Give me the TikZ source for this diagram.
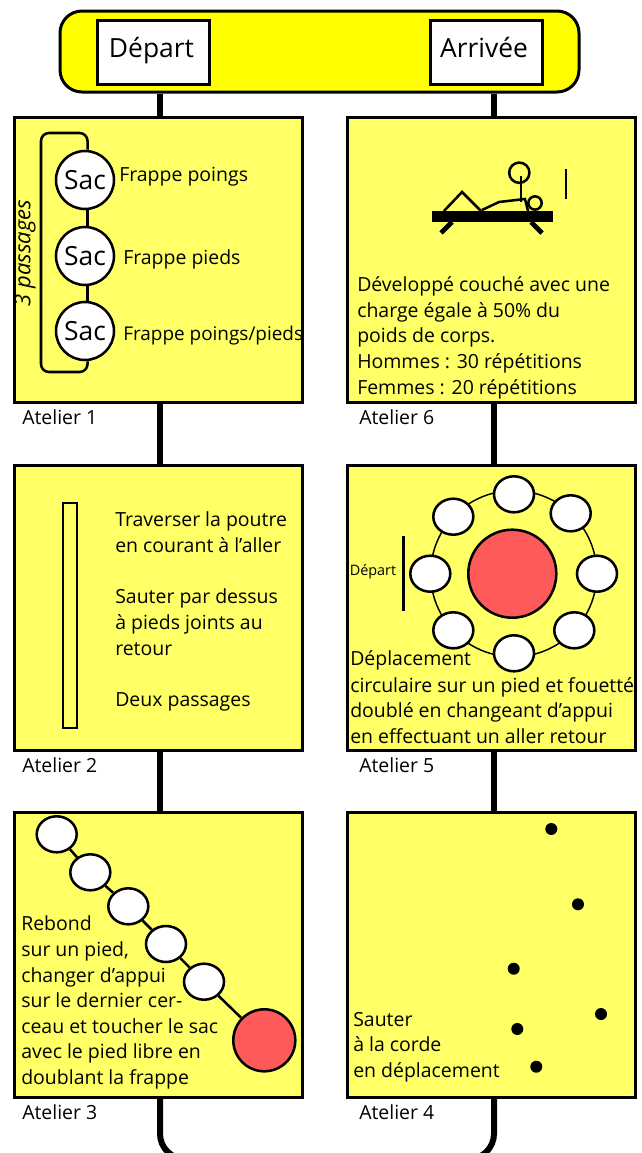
\documentclass[tikz,border=0pt]{standalone}
\usepackage{fontspec}
\setmainfont{Open Sans}
\definecolor{boxfill}{HTML}{FFFF66}
\definecolor{topfill}{HTML}{FFFF00}
\definecolor{redfill}{HTML}{FF5A5A}
\newcommand{\bodysize}{\fontsize{14.6}{17}\selectfont}
\newcommand{\bigsize}{\fontsize{19.8}{23}\selectfont}
\tikzset{
  x=0.75pt,y=-0.75pt,
  station/.style={draw=black,fill=boxfill,line width=2.25pt,minimum width=288*0.75pt,minimum height=285*0.75pt,inner sep=0pt},
  endbox/.style={draw=black,fill=white,line width=2.25pt,minimum width=112*0.75pt,minimum height=64*0.75pt,inner sep=0pt},
  link/.style={line width=4.5pt,draw=black},
  txt/.style={anchor=base west,inner sep=0pt,font=\bodysize,text=black},
  sac/.style={circle,draw=black,fill=white,line width=1.9pt,minimum size=58*0.75pt,inner sep=0pt,font=\bigsize},
  hoop/.style={ellipse,draw=black,fill=white,line width=1.9pt,minimum width=40*0.75pt,minimum height=36*0.75pt,inner sep=0pt},
  thin/.style={line width=1.9pt,draw=black},
  ring/.style={line width=1.1pt,draw=black},
  dot/.style={circle,fill=black,minimum size=12*0.75pt,inner sep=0pt},
  ball/.style={circle,draw=black,fill=redfill,line width=1.9pt,inner sep=0pt}
}
\usetikzlibrary{shapes.geometric}
\begin{document}
\begin{tikzpicture}
\useasboundingbox (0,0) rectangle (642,1153);
\clip (0,0) rectangle (642,1153);
% top bar
\node[draw=black,fill=topfill,line width=2.25pt,rounded corners=16.5pt,minimum width=519*0.75pt,minimum height=81*0.75pt,inner sep=0pt] (top) at (319.5,51.5) {};
\node[endbox] (depart) at (153,52.5) {};
\node[endbox] (arrivee) at (486.5,52.5) {};
\node[anchor=base,inner sep=0pt,font=\bigsize] (tdep) at (151.5,57) {Départ};
\node[anchor=base,inner sep=0pt,font=\bigsize] (tarr) at (484,57) {Arrivée};
% stations
\node[station] (a1) at (158.5,260) {};
\node[station] (a2) at (158.5,607.5) {};
\node[station] (a3) at (158.5,955) {};
\node[station] (a4) at (491.5,955) {};
\node[station] (a5) at (491.5,607.5) {};
\node[station] (a6) at (491.5,260) {};
% connectors
\coordinate (lx) at (160,0);
\coordinate (rx) at (494,0);
\draw[link] (lx |- top.south) -- (lx |- a1.north);
\draw[link] (lx |- a1.south) -- (lx |- a2.north);
\draw[link] (lx |- a2.south) -- (lx |- a3.north);
\draw[link] (rx |- top.south) -- (rx |- a6.north);
\draw[link] (rx |- a6.south) -- (rx |- a5.north);
\draw[link] (rx |- a5.south) -- (rx |- a4.north);
\coordinate (bl) at (160,1159);
\coordinate (br) at (494,1159);
\draw[link,rounded corners=19pt] (lx |- a3.south) -- (bl) -- (br) -- (rx |- a4.south);
% labels
\node[txt] (l1) at (22,424) {Atelier 1};
\node[txt] (l2) at (22,772) {Atelier 2};
\node[txt] (l3) at (22,1119) {Atelier 3};
\node[txt] (l4) at (359,1119) {Atelier 4};
\node[txt] (l5) at (359,772) {Atelier 5};
\node[txt] (l6) at (359,424) {Atelier 6};
% atelier 1
\node[sac] (s1) at (85,180) {Sac};
\node[sac] (s2) at (85,256) {Sac};
\node[sac] (s3) at (85,331) {Sac};
\draw[thin] ([xshift=1.9pt]s1.south) -- ([xshift=1.9pt]s2.north);
\draw[thin] ([xshift=1.9pt]s2.south) -- ([xshift=1.9pt]s3.north);
\coordinate (lp1) at (41,133);
\coordinate (lp2) at (41,372);
\draw[thin,rounded corners=6pt] ([xshift=1.9pt]s1.north) |- (lp1) -- (lp2) -| ([xshift=1.9pt]s3.south);
\node[txt] (f1) at (119,181) {Frappe poings};
\node[txt] (f2) at (123,264) {Frappe pieds};
\node[txt,font=\fontsize{14.2}{17}\selectfont] (f3) at (123,340) {Frappe poings/pieds};
\node[font=\fontsize{16.5}{19}\selectfont\itshape,rotate=90,inner sep=0pt] (pass) at (25,253) {3 passages};
% atelier 6
\fill[black] (432.3,210.7) rectangle (553,222);
\draw[line width=3.6pt] (452,222) -- (441,233);
\draw[line width=3.6pt] (531,222) -- (542,233);
\draw[thin] (444,211) -- (462,192) -- (481,211);
\draw[thin] (482,210) -- (499,202) -- (525,199) -- (528,211);
\draw[thin] (535,203) circle[radius=5*1pt];
\draw[thin] (519.3,172.7) circle[radius=7.6*1pt];
\draw[thin] (521,176) -- (521,202);
\draw[thin] (566,169) -- (566,199);
\node[txt] at (357,291) {Développé couché avec une};
\node[txt] at (357,317) {charge égale à 50\% du};
\node[txt] at (357,342) {poids de corps.};
\node[txt] at (357,368) {Hommes : 30 répétitions};
\node[txt] at (357,394) {Femmes : 20 répétitions};
% atelier 2
\draw[thin] (63,503) rectangle (77,728);
\node[txt] at (115,526) {Traverser la poutre};
\node[txt] at (115,552) {en courant à l’aller};
\node[txt] at (115,603) {Sauter par dessus};
\node[txt] at (115,629) {à pieds joints au};
\node[txt] at (115,655) {retour};
\node[txt] at (115,706) {Deux passages};
% atelier 5
\draw[ring] (513.7,573.7) circle[radius=62.3pt];
\node[ball,minimum size=88*0.75pt] (big) at (512.3,573.7) {};
\foreach \n/\px/\py in {h1/514/494.3,h2/570.7/513.3,h3/597/573.7,h4/574.3/630.3,h5/514/653.3,h6/453.3/630.3,h7/430.3/573.7,h8/453.3/516.7}
  \node[hoop] (\n) at (\px,\py) {};
\draw[thin] (403.7,536) -- (403.7,611);
\node[txt,font=\fontsize{10.8}{13}\selectfont] at (349.5,575) {Départ};
\node[txt] at (350,665) {Déplacement};
\node[txt] at (350,692) {circulaire sur un pied et fouetté};
\node[txt] at (350,717) {doublé en changeant d’appui};
\node[txt] at (350,743) {en effectuant un aller retour};
% atelier 3
\node[ball,minimum size=62*0.75pt] (sb) at (264.3,1040.3) {};
\node[hoop] (c1) at (56.7,834.3) {};
\node[hoop] (c2) at (90.3,872.3) {};
\node[hoop] (c3) at (128.3,906.3) {};
\node[hoop] (c4) at (166,944) {};
\node[hoop] (c5) at (204,981.7) {};
\draw[thin] (c1) -- (c2);
\draw[thin] (c2) -- (c3);
\draw[thin] (c3) -- (c4);
\draw[thin] (c4) -- (c5);
\draw[thin] (c5) -- (sb);
\node[txt] at (21,930) {Rebond};
\node[txt] at (21,956.5) {sur un pied,};
\node[txt] at (21,982) {changer d’appui};
\node[txt] at (21,1007) {sur le dernier cer-};
\node[txt] at (21,1033) {ceau et toucher le sac};
\node[txt] at (21,1058) {avec le pied libre en};
\node[txt] at (21,1084) {doublant la frappe};
% atelier 4
\foreach \n/\px/\py in {d1/551.3/829,d2/578/904.3,d3/513.7/968.7,d4/601/1014,d5/517.3/1029,d6/536.3/1066.7}
  \node[dot] (\n) at (\px,\py) {};
\node[txt] at (353,1026) {Sauter};
\node[txt] at (353,1051) {à la corde};
\node[txt] at (353,1077) {en déplacement};
\end{tikzpicture}
\end{document}
